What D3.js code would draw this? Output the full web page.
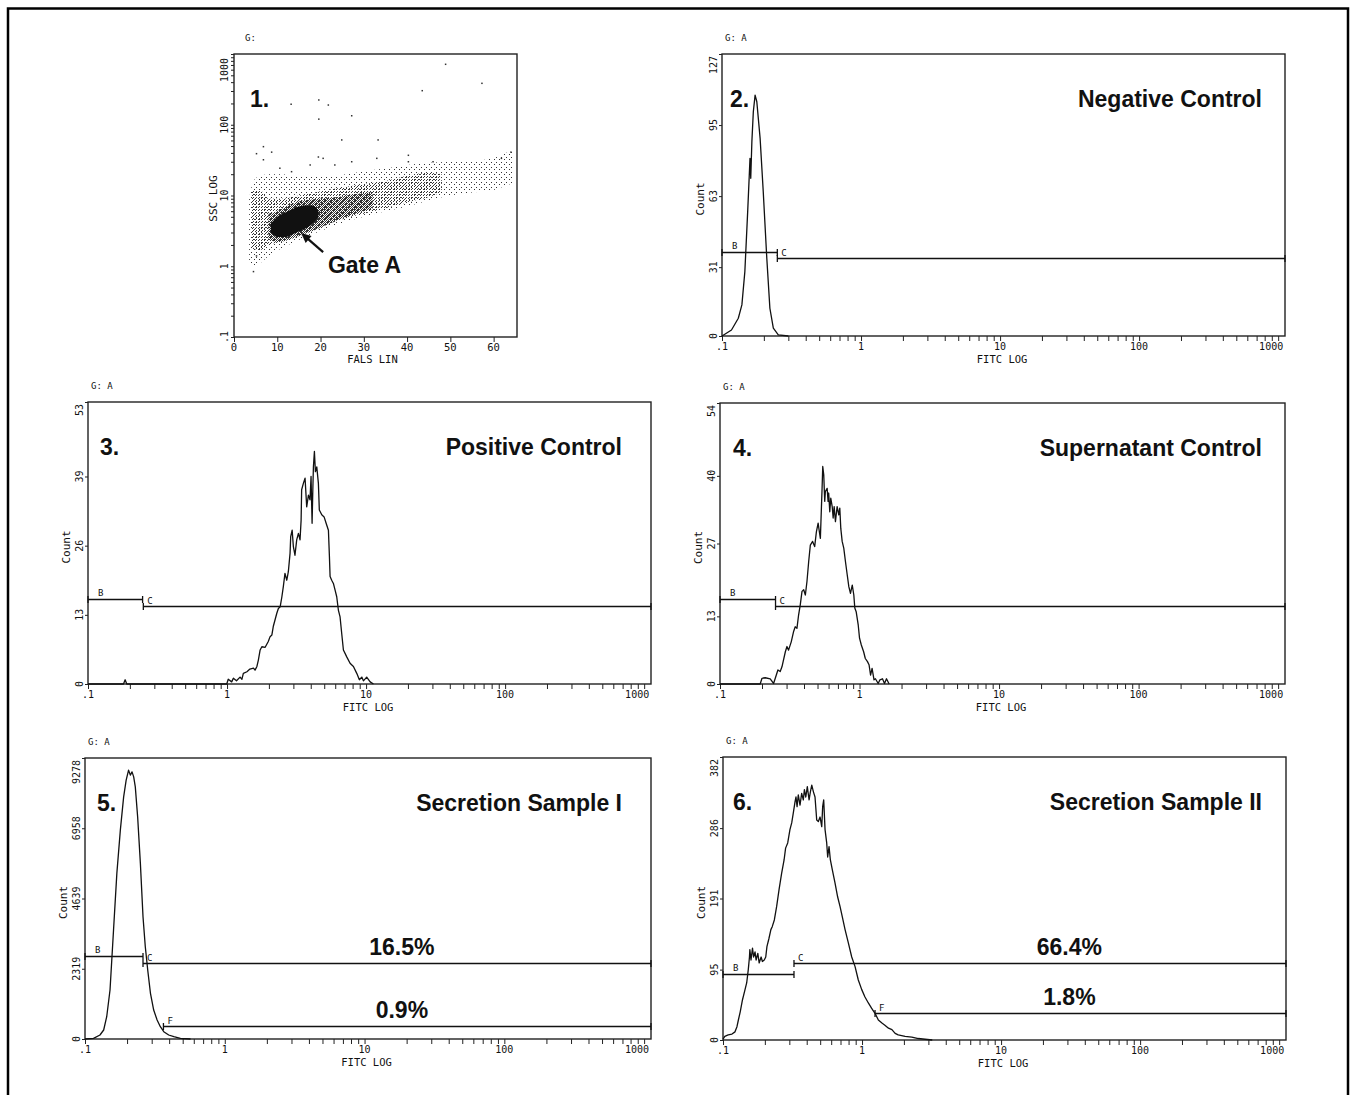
<!DOCTYPE html>
<html>
<head>
<meta charset="utf-8">
<script src="https://cdn.jsdelivr.net/npm/d3@7"></script>
<style>
  body { margin: 0; background: #fff; }
</style>
</head>
<body>
<div id="chart"></div>
<script>
// ---- axis ticks ----
const fitcTicks = [0.1, 1, 10, 100, 1000];
const fitcTickLabels = [".1", "1", "10", "100", "1000"];
const falsTicks = [0, 10, 20, 30, 40, 50, 60];
const sscTicks = [0.1, 1, 10, 100, 1000];
const sscTickLabels = [".1", "1", "10", "100", "1000"];

// ---- panel 1: FALS LIN vs SSC LOG dot plot ----
// cloud outlines as [FALS, lower SSC, upper SSC]
const cloudSparse = [[3.5, 1.2, 9], [4.5, 1.0, 16], [6, 1.1, 19], [8, 1.4, 20], [11, 1.8, 20], [14, 2.2, 19],
  [18, 2.8, 19], [22, 3.5, 19], [26, 4.3, 20], [30, 5.0, 22], [35, 6.0, 24], [40, 7.0, 27], [45, 8.5, 29],
  [50, 10, 30], [55, 11, 31], [60, 12, 34], [64.5, 15, 45]];
const cloudMedium = [[4, 1.8, 12], [6, 1.7, 12], [8, 2.0, 9], [11, 2.3, 9], [15, 2.8, 10], [20, 3.6, 11.5],
  [25, 4.6, 13], [30, 5.5, 14.5], [35, 6.6, 16], [40, 8, 19], [45, 9.5, 21], [48, 11, 20]];
const cloudDense = [[8, 2.4, 5.5], [10, 2.2, 6], [12, 2.3, 7], [16, 2.8, 8.5], [20, 3.5, 9], [24, 4.5, 9.5],
  [28, 5.5, 10.5], [32, 6.5, 11]];
const cloudCore = [[8.5, 3.0, 4.0], [10, 2.6, 5.0], [12, 2.6, 5.8], [14, 2.9, 6.6], [16, 3.3, 7.2],
  [18, 3.9, 7.3], [19.5, 4.8, 6.2]];
const outlierFals = [48.9, 57.3, 43.5, 13.2, 19.6, 21.8, 19.6, 27.2, 24.9, 33.3, 6.8, 5.2, 8.7, 6.8, 19.5,
  20.6, 27.2, 40.3, 40.3, 33, 4.5, 5.2, 64, 61.8, 10.6, 13.3, 17.6, 23.3, 46];
const outlierSsc = [715, 385, 303, 195, 224, 190, 120, 134, 61, 61, 49, 39, 41, 32, 35,
  33.5, 30, 37, 30, 33.5, 0.84, 1.4, 41, 33.5, 24.3, 21.7, 27, 27, 30];

// ---- histograms: [FITC, count] ----
const negCtrl = [[0.1, 0], [0.117, 2.7], [0.131, 8], [0.139, 14], [0.146, 29], [0.153, 56], [0.157, 72],
  [0.159, 80], [0.161, 71], [0.164, 87.5], [0.168, 101], [0.173, 108.5], [0.178, 105.5], [0.188, 89],
  [0.198, 65], [0.210, 35], [0.221, 12.5], [0.234, 3.5], [0.254, 0.5], [0.3, 0]];
const negCtrlTicks = [0, 31, 63, 95, 127];
const negCtrlGates = [["B", 0.1, 0.25, 38], ["C", 0.25, 1120, 35]];

const posCtrl = [[0.1, 0], [0.18, 0], [0.185, 0.8], [0.19, 0], [0.64, 0], [0.995, 0], [1.02, 0.9], [1.08, 0.4],
  [1.11, 1.1], [1.17, 0.6], [1.24, 1.3], [1.28, 0.9], [1.31, 2.0], [1.39, 2.3], [1.46, 2.8], [1.55, 3.0],
  [1.59, 2.6], [1.64, 3.3], [1.68, 4.5], [1.73, 6.4], [1.78, 7.0], [1.88, 6.9], [1.98, 8.0], [2.04, 8.9],
  [2.10, 9.2], [2.15, 10.8], [2.28, 13.3], [2.34, 14.2], [2.41, 14.5], [2.48, 16.4], [2.54, 18.3],
  [2.61, 20.8], [2.69, 19.5], [2.76, 21.1], [2.84, 24.6], [2.87, 27.7], [2.94, 28.9], [3.00, 25.8],
  [3.08, 24.2], [3.17, 27.1], [3.26, 28.3], [3.35, 27.1], [3.41, 30.8], [3.44, 36.5], [3.54, 37.7],
  [3.64, 38.7], [3.74, 33.3], [3.85, 35.5], [3.95, 34.6], [4.02, 39.0], [4.09, 30.2], [4.14, 36.5],
  [4.18, 40.8], [4.25, 43.7], [4.32, 39.9], [4.42, 40.8], [4.54, 37.7], [4.61, 32.7], [4.80, 31.8],
  [4.99, 31.4], [5.16, 30.2], [5.36, 28.9], [5.45, 23.9], [5.51, 20.2], [5.66, 19.5], [5.82, 18.9],
  [5.98, 17.7], [6.15, 16.4], [6.32, 13.9], [6.50, 12.6], [6.68, 9.5], [6.87, 6.4], [7.26, 5.1],
  [7.67, 3.9], [8.11, 3.3], [8.57, 2.0], [8.95, 0.8], [9.31, 1.3], [9.57, 0.6], [10.1, 1.3], [10.7, 0.4],
  [11.3, 0]];
const posCtrlTicks = [0, 13, 26, 39, 53];
const posCtrlGates = [["B", 0.1, 0.247, 16], ["C", 0.25, 1120, 14.7]];

const supCtrl = [[0.1, 0], [0.194, 0], [0.200, 1.1], [0.211, 1.2], [0.229, 1.0], [0.242, 0.1], [0.249, 1.1],
  [0.260, 2.7], [0.270, 2.4], [0.278, 3.3], [0.294, 6.2], [0.302, 7.2], [0.310, 6.5], [0.324, 8.1],
  [0.337, 10.1], [0.346, 11.0], [0.356, 10.7], [0.366, 13.3], [0.376, 15.2], [0.387, 17.8], [0.398, 18.1],
  [0.409, 17.1], [0.420, 19.7], [0.432, 23.5], [0.444, 26.7], [0.461, 27.4], [0.477, 26.4], [0.491, 29.3],
  [0.505, 30.9], [0.515, 29.3], [0.524, 28.0], [0.533, 33.8], [0.539, 37.6], [0.545, 41.8], [0.554, 40.2],
  [0.563, 35.1], [0.569, 37.0], [0.586, 37.6], [0.595, 35.1], [0.601, 36.7], [0.612, 33.1], [0.622, 35.7],
  [0.637, 34.1], [0.647, 31.9], [0.658, 34.1], [0.672, 31.2], [0.691, 34.1], [0.710, 32.5], [0.722, 33.8],
  [0.734, 29.9], [0.751, 27.4], [0.771, 26.1], [0.793, 23.5], [0.816, 21.0], [0.838, 18.7], [0.861, 17.4],
  [0.887, 19.0], [0.910, 17.1], [0.925, 14.6], [0.946, 13.9], [0.979, 11.3], [1.00, 8.8], [1.03, 7.5],
  [1.07, 6.2], [1.10, 4.9], [1.14, 4.3], [1.17, 3.7], [1.20, 1.7], [1.23, 3.0], [1.27, 0.8], [1.30, 1.0],
  [1.36, 0.1], [1.40, 0.8], [1.46, 1.0], [1.51, 0.1], [1.56, 1.0], [1.63, 0]];
const supCtrlTicks = [0, 13, 27, 40, 54];
const supCtrlGates = [["B", 0.1, 0.25, 16.3], ["C", 0.25, 1120, 15]];

const secretionI = [[0.1, 0], [0.115, 23], [0.128, 132], [0.136, 297], [0.143, 736], [0.151, 1617],
  [0.160, 3597], [0.169, 5468], [0.179, 6897], [0.189, 7996], [0.197, 8547], [0.205, 8877], [0.211, 8712],
  [0.217, 8821], [0.223, 8656], [0.229, 8326], [0.238, 7336], [0.249, 5798], [0.260, 4036], [0.270, 3046],
  [0.281, 2277], [0.294, 1508], [0.310, 957], [0.328, 627], [0.346, 406], [0.366, 241], [0.397, 132],
  [0.432, 76], [0.482, 23], [0.569, 0]];
const secretionITicks = [0, 2319, 4639, 6958, 9278];
const secretionIGates = [["B", 0.1, 0.26, 2749], ["C", 0.26, 1120, 2518], ["F", 0.364, 1120, 439]];
const secretionIPct = [["C", "16.5%"], ["F", "0.9%"]];

const secretionII = [[0.100, 1], [0.103, 5], [0.109, 7], [0.116, 8], [0.122, 11], [0.126, 18], [0.129, 27],
  [0.133, 38], [0.138, 54], [0.144, 68], [0.148, 77], [0.152, 95], [0.155, 112], [0.156, 122], [0.159, 108],
  [0.163, 124], [0.166, 112], [0.170, 119], [0.173, 108], [0.178, 117], [0.182, 104], [0.188, 112],
  [0.192, 106], [0.198, 108], [0.203, 112], [0.207, 126], [0.214, 137], [0.221, 149], [0.226, 153],
  [0.234, 162], [0.243, 180], [0.253, 203], [0.264, 225], [0.275, 243], [0.282, 259], [0.292, 266],
  [0.303, 284], [0.312, 293], [0.320, 306], [0.330, 322], [0.335, 328], [0.341, 315], [0.348, 331],
  [0.358, 317], [0.368, 333], [0.378, 324], [0.385, 338], [0.394, 328], [0.404, 342], [0.416, 324],
  [0.425, 335], [0.435, 344], [0.447, 335], [0.459, 328], [0.472, 297], [0.485, 295], [0.499, 301],
  [0.513, 288], [0.521, 315], [0.530, 324], [0.542, 284], [0.557, 266], [0.566, 247], [0.579, 261],
  [0.592, 243], [0.611, 230], [0.639, 212], [0.668, 193], [0.695, 180], [0.722, 166], [0.755, 149],
  [0.797, 131], [0.843, 112], [0.891, 99], [0.940, 81], [0.995, 68], [1.05, 58], [1.11, 50], [1.17, 43],
  [1.24, 36], [1.31, 27], [1.39, 23], [1.46, 20], [1.55, 16], [1.64, 14], [1.73, 9], [1.82, 7], [2.04, 5],
  [2.28, 4], [2.54, 2], [2.84, 1], [3.2, 0]];
const secretionIITicks = [0, 95, 191, 286, 382];
const secretionIIGates = [["B", 0.1, 0.324, 88.7], ["C", 0.324, 1120, 104], ["F", 1.24, 1120, 36.8]];
const secretionIIPct = [["C", "66.4%"], ["F", "1.8%"]];

// ---- layout ----
const fitcMax = 1120;
const falsMax = 65.4;
const mono = "'DejaVu Sans Mono', 'Liberation Mono', monospace";
const sans = "'Liberation Sans', Arial, sans-serif";
const ink = "#111";

const histPanels = [
  { num: "2.", title: "Negative Control", data: negCtrl, ticks: negCtrlTicks, gates: negCtrlGates, pct: [],
    left: 722, top: 54, w: 563, h: 282, titleRight: 23, numX: 8 },
  { num: "3.", title: "Positive Control", data: posCtrl, ticks: posCtrlTicks, gates: posCtrlGates, pct: [],
    left: 88, top: 402, w: 563, h: 282, titleRight: 29, numX: 12 },
  { num: "4.", title: "Supernatant Control", data: supCtrl, ticks: supCtrlTicks, gates: supCtrlGates, pct: [],
    left: 720, top: 403, w: 565, h: 281, titleRight: 23, numX: 13 },
  { num: "5.", title: "Secretion Sample I", data: secretionI, ticks: secretionITicks, gates: secretionIGates,
    pct: secretionIPct, pctX: 18.5, left: 85, top: 758, w: 566, h: 281, titleRight: 29, numX: 12 },
  { num: "6.", title: "Secretion Sample II", data: secretionII, ticks: secretionIITicks, gates: secretionIIGates,
    pct: secretionIIPct, pctX: 31, left: 723, top: 757, w: 563, h: 283, titleRight: 24, numX: 10 }
];

const svg = d3.select("#chart").append("svg")
  .attr("width", 1351).attr("height", 1095)
  .style("background", "#fff");

// outer frame
svg.append("rect")
  .attr("x", 8).attr("y", 8.5).attr("width", 1340).attr("height", 1100)
  .attr("fill", "none").attr("stroke", "#000").attr("stroke-width", 2.5);

// stipple patterns for the dot plot
const defs = svg.append("defs");
function stipple(id, size, cells) {
  const pat = defs.append("pattern").attr("id", id)
    .attr("width", size).attr("height", size).attr("patternUnits", "userSpaceOnUse");
  cells.forEach(c => pat.append("rect").attr("x", c[0]).attr("y", c[1])
    .attr("width", 1).attr("height", 1).attr("fill", "#333"));
}
stipple("stipSparse", 5, [[0, 0], [2, 3]]);
stipple("stipMedium", 3, [[0, 0], [1, 2]]);
stipple("stipDense", 2, [[0, 0], [1, 1]]);

function rotLabel(g, x, y, s, size, anchor) {
  g.append("text")
    .attr("transform", "translate(" + x + "," + y + ") rotate(-90)")
    .attr("text-anchor", anchor || "middle")
    .style("font-family", mono).style("font-size", size + "px").attr("fill", ink)
    .text(s);
}

function logMinor(lo, hi) {
  const v = [];
  for (let d = lo; d < hi; d *= 10) for (let k = 1; k < 10; k++) v.push(d * k);
  v.push(hi);
  return v;
}

// ---- panel 1 ----
(function () {
  const p = { left: 234, top: 54, w: 283, h: 283 };
  const g = svg.append("g").attr("transform", "translate(" + p.left + "," + p.top + ")");
  const x = d3.scaleLinear().domain([0, falsMax]).range([0, p.w]);
  const y = d3.scaleLog().domain([0.1, 1000]).range([p.h, 0]);

  const area = d3.area()
    .x(d => x(d[0])).y0(d => y(d[1])).y1(d => y(d[2]))
    .curve(d3.curveMonotoneX);
  g.append("path").datum(cloudSparse).attr("d", area).attr("fill", "url(#stipSparse)");
  g.append("path").datum(cloudMedium).attr("d", area).attr("fill", "url(#stipMedium)");
  g.append("path").datum(cloudDense).attr("d", area).attr("fill", "url(#stipDense)");
  g.append("path").datum(cloudCore).attr("d", area).attr("fill", "#111");

  g.selectAll(".outlier").data(outlierFals).enter().append("rect")
    .attr("class", "outlier")
    .attr("x", (d, i) => x(d) - 0.75).attr("y", (d, i) => y(outlierSsc[i]) - 0.75)
    .attr("width", 1.5).attr("height", 1.5).attr("fill", "#333");

  g.append("rect").attr("width", p.w).attr("height", p.h)
    .attr("fill", "none").attr("stroke", "#222").attr("stroke-width", 1.4);

  const xAxis = g.append("g").attr("transform", "translate(0," + p.h + ")")
    .call(d3.axisBottom(x).tickValues(falsTicks).tickSize(5).tickFormat(""));
  const yAxis = g.append("g")
    .call(d3.axisLeft(y).tickValues(logMinor(0.1, 1000)).tickSize(3).tickFormat(""));
  [xAxis, yAxis].forEach(a => {
    a.select(".domain").remove();
    a.selectAll("line").attr("stroke", "#222").attr("stroke-width", 1);
  });

  falsTicks.forEach(t => g.append("text")
    .attr("x", x(t)).attr("y", p.h + 14).attr("text-anchor", "middle")
    .style("font-family", mono).style("font-size", "10.5px").attr("fill", ink).text(t));
  g.append("text").attr("x", x(32)).attr("y", p.h + 26).attr("text-anchor", "middle")
    .style("font-family", mono).style("font-size", "10.5px").attr("fill", ink).text("FALS LIN");

  sscTicks.forEach((t, i) => {
    const top = i === sscTicks.length - 1;
    rotLabel(g, -6, y(t) + (top ? 4 : 0), sscTickLabels[i], 10, top ? "end" : "middle");
  });
  rotLabel(g, -17, p.h / 2 + 3, "SSC LOG", 11);

  g.append("text").attr("x", 11).attr("y", -13)
    .style("font-family", mono).style("font-size", "9px").attr("fill", ink).text("G:");

  g.append("text").attr("x", 16).attr("y", 53)
    .style("font-family", sans).style("font-weight", "bold").style("font-size", "23px")
    .attr("fill", ink).text("1.");

  // Gate A arrow
  const tail = [x(20.6), y(1.58)], head = [x(15.5), y(2.96)];
  const ang = Math.atan2(head[1] - tail[1], head[0] - tail[0]);
  g.append("line").attr("x1", tail[0]).attr("y1", tail[1])
    .attr("x2", head[0] - 6 * Math.cos(ang)).attr("y2", head[1] - 6 * Math.sin(ang))
    .attr("stroke", ink).attr("stroke-width", 2.2);
  const hl = 10, hw = 4.5;
  const bx = head[0] - hl * Math.cos(ang), by = head[1] - hl * Math.sin(ang);
  g.append("path")
    .attr("d", "M" + head[0] + "," + head[1] +
      "L" + (bx + hw * Math.sin(ang)) + "," + (by - hw * Math.cos(ang)) +
      "L" + (bx - hw * Math.sin(ang)) + "," + (by + hw * Math.cos(ang)) + "Z")
    .attr("fill", ink);
  g.append("text").attr("x", x(21.7)).attr("y", y(0.8))
    .style("font-family", sans).style("font-weight", "bold").style("font-size", "23px")
    .attr("fill", ink).text("Gate A");
})();

// ---- histogram panels ----
histPanels.forEach(p => {
  const g = svg.append("g").attr("transform", "translate(" + p.left + "," + p.top + ")");
  const x = d3.scaleLog().domain([0.1, fitcMax]).range([0, p.w]);
  const y = d3.scaleLinear().domain([0, p.ticks[p.ticks.length - 1]]).range([p.h, 0]);

  g.append("rect").attr("width", p.w).attr("height", p.h)
    .attr("fill", "none").attr("stroke", "#222").attr("stroke-width", 1.4);

  const xAxis = g.append("g").attr("transform", "translate(0," + p.h + ")")
    .call(d3.axisBottom(x).tickValues(logMinor(0.1, 1000)).tickSize(5).tickFormat(""));
  const yAxis = g.append("g")
    .call(d3.axisLeft(y).tickValues(p.ticks).tickSize(3).tickFormat(""));
  [xAxis, yAxis].forEach(a => {
    a.select(".domain").remove();
    a.selectAll("line").attr("stroke", "#222").attr("stroke-width", 1);
  });

  fitcTicks.forEach((t, i) => g.append("text")
    .attr("x", x(t) - (i === fitcTicks.length - 1 ? 7 : 0)).attr("y", p.h + 14)
    .attr("text-anchor", "middle")
    .style("font-family", mono).style("font-size", "10px").attr("fill", ink)
    .text(fitcTickLabels[i]));
  g.append("text").attr("x", x(10) + 2).attr("y", p.h + 27).attr("text-anchor", "middle")
    .style("font-family", mono).style("font-size", "10.5px").attr("fill", ink).text("FITC LOG");

  p.ticks.forEach((t, i) => {
    const top = i === p.ticks.length - 1;
    rotLabel(g, -5, y(t) + (top ? 2 : 0), String(t), 10, top ? "end" : "middle");
  });
  rotLabel(g, -18, p.h / 2 + 4, "Count", 11);

  g.append("text").attr("x", 3).attr("y", -13)
    .style("font-family", mono).style("font-size", "9px").attr("fill", ink).text("G: A");

  // histogram trace
  g.append("path").datum(p.data)
    .attr("d", d3.line().x(d => x(d[0])).y(d => y(d[1])))
    .attr("fill", "none").attr("stroke", ink).attr("stroke-width", 1.3)
    .attr("stroke-linejoin", "round");

  // gate markers
  const gateY = {};
  p.gates.forEach(([name, x0, x1, lev]) => {
    const yy = Math.round(y(lev)) + 0.5;
    gateY[name] = yy;
    g.append("line").attr("x1", x(x0)).attr("x2", x(x1)).attr("y1", yy).attr("y2", yy)
      .attr("stroke", ink).attr("stroke-width", 1.3);
    [x0, x1].forEach(v => g.append("line")
      .attr("x1", x(v)).attr("x2", x(v)).attr("y1", yy - 3.5).attr("y2", yy + 3.5)
      .attr("stroke", ink).attr("stroke-width", 1.3));
    g.append("text")
      .attr("x", x(x0) + (name === "B" ? 10 : 4)).attr("y", yy - (name === "B" ? 4 : 3))
      .style("font-family", mono).style("font-size", "9px").attr("fill", ink).text(name);
  });

  p.pct.forEach(([name, label]) => g.append("text")
    .attr("x", x(p.pctX)).attr("y", gateY[name] - 9).attr("text-anchor", "middle")
    .style("font-family", sans).style("font-weight", "bold").style("font-size", "23px")
    .attr("fill", ink).text(label));

  g.append("text").attr("x", p.numX).attr("y", 53)
    .style("font-family", sans).style("font-weight", "bold").style("font-size", "23px")
    .attr("fill", ink).text(p.num);
  g.append("text").attr("x", p.w - p.titleRight).attr("y", 53).attr("text-anchor", "end")
    .style("font-family", sans).style("font-weight", "bold").style("font-size", "23px")
    .attr("fill", ink).text(p.title);
});
</script>
</body>
</html>
